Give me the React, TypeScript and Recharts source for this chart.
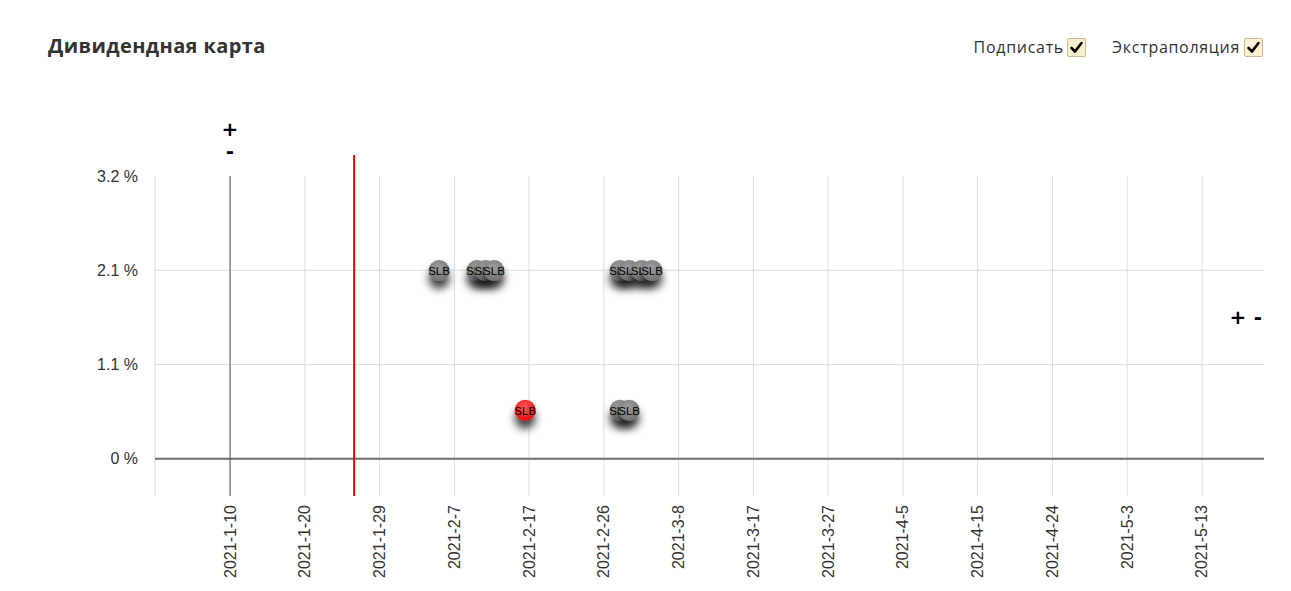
import React from "react";
import { ScatterChart, Scatter, XAxis, YAxis, ReferenceLine } from "recharts";

// ---- data ----
const tickLabels = [
  "2021-1-10", "2021-1-20", "2021-1-29", "2021-2-7", "2021-2-17", "2021-2-26", "2021-3-8",
  "2021-3-17", "2021-3-27", "2021-4-5", "2021-4-15", "2021-4-24", "2021-5-3", "2021-5-13",
];
const xDomain = [0.5, 140.85]; // day of year 2021
const yMax = 3.2;
const yMin = -0.42;
const ySteps = 3;
const todayDay = 25.7;
const anchorDay = 10;

const extrapolatedDays = [36.45, 41.25, 42.3, 43.4, 59.35, 60.5, 62.1, 63.4, 59.35, 60.5];
const extrapolatedYields = [2.13, 2.13, 2.13, 2.13, 2.13, 2.13, 2.13, 2.13, 0.55, 0.55];
const extrapolatedTickers = ["SLB", "SLB", "SLB", "SLB", "SLB", "SLB", "SLB", "SLB", "SLB", "SLB"];

const actualDays = [47.35];
const actualYields = [0.55];
const actualTickers = ["SLB"];

// ---- derived ----
const dayOfYear = (s: string) => {
  const [y, m, d] = s.split("-").map(Number);
  return (Date.UTC(y, m - 1, d) - Date.UTC(y, 0, 0)) / 86400000;
};
const firstTick = dayOfYear(tickLabels[0]);
const lastTick = dayOfYear(tickLabels[tickLabels.length - 1]);
const xTicks = tickLabels.map((_, i) => firstTick + (i * (lastTick - firstTick)) / (tickLabels.length - 1));
const yTicks = Array.from({ length: ySteps + 1 }, (_, i) => (i * yMax) / ySteps);

const extrapolatedData = extrapolatedDays.map((d, i) => ({ x: d, y: extrapolatedYields[i], label: extrapolatedTickers[i] }));
const actualData = actualDays.map((d, i) => ({ x: d, y: actualYields[i], label: actualTickers[i] }));

const axisFont = "'Liberation Sans', Arial, sans-serif";
const uiFont = "'Open Sans', 'Noto Sans', sans-serif";
const gridColor = "#dcdcdc";

const XTick = (props: any) => {
  const { x, y, index } = props;
  return (
    <text
      x={x}
      y={y}
      transform={`rotate(-90 ${x} ${y})`}
      textAnchor="end"
      dominantBaseline="central"
      fontSize={16}
      fontFamily={axisFont}
      fill="#333"
    >
      {tickLabels[index]}
    </text>
  );
};

const YTick = (props: any) => {
  const { x, y, payload } = props;
  return (
    <text x={x} y={y} textAnchor="end" dominantBaseline="central" fontSize={16} fontFamily={axisFont} fill="#333">
      {Number(payload.value.toFixed(1)) + " %"}
    </text>
  );
};

const makeDot = (grad: string) => (props: any) => {
  const { cx, cy, payload } = props;
  return (
    <g>
      <circle cx={cx} cy={cy} r={10.5} fill={`url(#${grad})`} filter="url(#dotShadow)" />
      <text x={cx} y={cy + 0.5} textAnchor="middle" dominantBaseline="central" fontSize={11.5} fontFamily={axisFont} fill="#000">
        {payload.label}
      </text>
    </g>
  );
};

const Check = ({ left }: { left: number }) => (
  <div
    style={{
      position: "absolute",
      left,
      top: 38,
      width: 17,
      height: 17,
      background: "#fcefd2",
      border: "1px solid #cdb98f",
      borderRadius: 2,
    }}
  >
    <svg width={17} height={17} style={{ position: "absolute", left: 0, top: 0 }}>
      <path d="M3.5 9 L7 12.5 L13.5 4" fill="none" stroke="#000" strokeWidth={2.6} strokeLinecap="round" strokeLinejoin="round" />
    </svg>
  </div>
);

const ctrl: React.CSSProperties = {
  position: "absolute",
  fontFamily: "'DejaVu Sans', sans-serif",
  fontWeight: 700,
  fontSize: 20,
  color: "#000",
  lineHeight: "20px",
  transform: "translate(-50%, -50%)",
};

const labelStyle: React.CSSProperties = {
  position: "absolute",
  top: 35,
  fontFamily: uiFont,
  fontSize: 16,
  letterSpacing: 0.7,
  color: "#333",
  lineHeight: "24px",
};

export default function App() {
  return (
    <div style={{ position: "absolute", left: 0, top: 0, width: 1291, height: 591, background: "#fff", overflow: "hidden" }}>
      <svg width={0} height={0} style={{ position: "absolute" }}>
        <defs>
          <radialGradient id="gGray" cx="45%" cy="35%" r="65%">
            <stop offset="0%" stopColor="#a0a0a0" />
            <stop offset="100%" stopColor="#727272" />
          </radialGradient>
          <radialGradient id="gRed" cx="45%" cy="35%" r="65%">
            <stop offset="0%" stopColor="#ff5a5a" />
            <stop offset="100%" stopColor="#e80c0c" />
          </radialGradient>
          <filter id="dotShadow" x="-100%" y="-100%" width="300%" height="300%">
            <feDropShadow dx={0} dy={8} stdDeviation={4} floodColor="#000" floodOpacity={0.75} />
          </filter>
        </defs>
      </svg>

      <div style={{ position: "absolute", left: 48, top: 33, fontFamily: uiFont, fontWeight: 700, fontSize: 20, letterSpacing: 0.4, color: "#333", lineHeight: "26px" }}>
        Дивидендная карта
      </div>

      <div style={{ ...labelStyle, right: 1291 - 1064 }}>Подписать</div>
      <Check left={1067} />
      <div style={{ ...labelStyle, right: 1291 - 1240 }}>Экстраполяция</div>
      <Check left={1244} />

      <div style={{ ...ctrl, left: 230, top: 129 }}>+</div>
      <div style={{ ...ctrl, left: 230, top: 151 }}>-</div>
      <div style={{ ...ctrl, left: 1238, top: 317 }}>+</div>
      <div style={{ ...ctrl, left: 1258, top: 317 }}>-</div>

      <div style={{ position: "absolute", left: 0, top: 0 }}>
        <ScatterChart width={1291} height={591} margin={{ top: 176, right: 27, bottom: 15, left: 95 }}>
          <XAxis
            type="number"
            dataKey="x"
            domain={xDomain}
            ticks={xTicks}
            allowDataOverflow
            axisLine={false}
            tickLine={false}
            tickSize={0}
            tickMargin={9}
            height={80}
            interval={0}
            tick={<XTick />}
          />
          <YAxis
            type="number"
            dataKey="y"
            domain={[yMin, yMax]}
            ticks={yTicks}
            allowDataOverflow
            axisLine={false}
            tickLine={false}
            tickSize={0}
            tickMargin={17}
            width={60}
            interval={0}
            tick={<YTick />}
          />
          <ReferenceLine x={xDomain[0]} stroke={gridColor} />
          {xTicks.map((t) => (
            <ReferenceLine key={"vx" + t} x={t} stroke={gridColor} />
          ))}
          {yTicks.map((t) => (
            <ReferenceLine key={"hy" + t} y={t} stroke={gridColor} />
          ))}
          <ReferenceLine y={0} stroke="#6e6e6e" strokeWidth={2} />
          <ReferenceLine x={anchorDay} stroke="#555" strokeWidth={1} />
          <ReferenceLine
            x={todayDay}
            stroke="#ff0000"
            strokeWidth={2}
            shape={(p: any) => (
              <line
                x1={p.x1}
                x2={p.x2}
                y1={Math.min(p.y1, p.y2) - 21}
                y2={Math.max(p.y1, p.y2)}
                stroke="#ff0000"
                strokeWidth={2}
              />
            )}
          />
          <Scatter data={extrapolatedData} isAnimationActive={false} shape={makeDot("gGray")} />
          <Scatter data={actualData} isAnimationActive={false} shape={makeDot("gRed")} />
        </ScatterChart>
      </div>
    </div>
  );
}
